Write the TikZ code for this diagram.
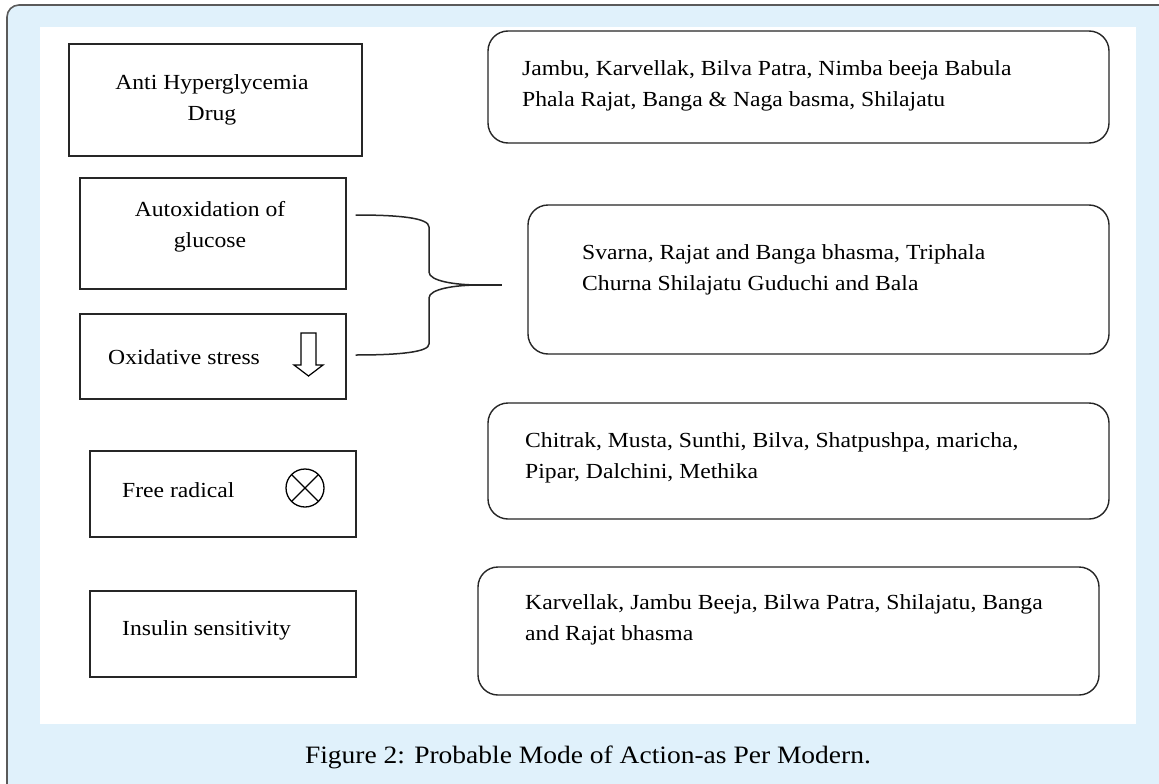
\documentclass[tikz,border=0pt]{standalone}
\usepackage{fontspec}
\setmainfont{Liberation Serif}[FakeStretch=1.10]
\usepackage{tikz}
\usetikzlibrary{calc}
\usetikzlibrary{arrows.meta}

\definecolor{marcofondo}{HTML}{E0F1FB}
\definecolor{marcoborde}{HTML}{5A5A5A}

\tikzset{
  caja/.style={draw=black!85, line width=1.4pt, rectangle, inner sep=0pt},
  cajaredonda/.style={draw=black!85, line width=1.4pt, rectangle, rounded corners=20pt, inner sep=0pt},
  texto/.style={font=\fontsize{21.5}{31}\selectfont, inner sep=0pt},
  conector/.style={draw=black!85, line width=1.5pt},
}

\begin{document}
\begin{tikzpicture}[x=1pt, y=-1pt]
  \useasboundingbox (0,0) rectangle (1159,784);
  \draw [fill=marcofondo, draw=marcoborde, line width=1.6pt, rounded corners=12pt] (7,5) rectangle (1180,810); % marco
  \fill [white] (40,27) rectangle (1136,724); % fondo blanco

  % cajas de la izquierda
  \node [caja, minimum width=293, minimum height=112] (drug) at (215.5,100) {};
  \node [caja, minimum width=266, minimum height=111] (auto) at (213,233.5) {};
  \node [caja, minimum width=266, minimum height=85] (oxi) at (213,356.5) {};
  \node [caja, minimum width=266, minimum height=86] (free) at (223,494) {};
  \node [caja, minimum width=266, minimum height=86] (insu) at (223,634) {};

  % (anchor=base -> linea de base de la ultima linea)
  \node [texto, align=center, anchor=base] (drugtxt) at (212,120) {Anti Hyperglycemia\\Drug};
  \node [texto, align=center, anchor=base] (autotxt) at (210,247) {Autoxidation of\\glucose};
  \node [texto, anchor=base west] (oxitxt) at (108,364) {Oxidative stress};
  \node [texto, anchor=base west] (freetxt) at (122,497) {Free radical};
  \node [texto, anchor=base west] (insutxt) at (122,635) {Insulin sensitivity};

  % cajas de la derecha
  \node [cajaredonda, minimum width=621, minimum height=112] (r1) at (798.5,87) {};
  \node [cajaredonda, minimum width=581, minimum height=149] (r2) at (818.5,279.5) {};
  \node [cajaredonda, minimum width=621, minimum height=116] (r3) at (798.5,461) {};
  \node [cajaredonda, minimum width=621, minimum height=128] (r4) at (788.5,631) {};

  \node [texto, align=left, anchor=base west] (r1txt) at (522,106) {Jambu, Karvellak, Bilva Patra, Nimba beeja Babula\\Phala Rajat, Banga \& Naga basma, Shilajatu};
  \node [texto, align=left, anchor=base west] (r2txt) at (582,290) {Svarna, Rajat and Banga bhasma, Triphala\\Churna Shilajatu Guduchi and Bala};
  \node [texto, align=left, anchor=base west] (r3txt) at (525,478) {Chitrak, Musta, Sunthi, Bilva, Shatpushpa, maricha,\\Pipar, Dalchini, Methika};
  \node [texto, align=left, anchor=base west] (r4txt) at (525,640) {Karvellak, Jambu Beeja, Bilwa Patra, Shilajatu, Banga\\and Rajat bhasma};

  % flecha hacia abajo y radical libre
  \draw [line width=1.2pt] (301,333) -- (316,333) -- (316,365) -- (323,365) -- (308.5,376) -- (294,365) -- (301,365) -- cycle;
  \draw [line width=1.3pt] (305,488) circle (19) coordinate (cruz);
  \draw [line width=1.3pt] ($(cruz)+(-13.4,-13.4)$) -- ($(cruz)+(13.4,13.4)$);
  \draw [line width=1.3pt] ($(cruz)+(-13.4,13.4)$) -- ($(cruz)+(13.4,-13.4)$);

  % llave
  \coordinate (punta) at ($(r2.west)+(-48,5.5)$);
  \coordinate (arriba) at ($(auto.east)+(9,-18.5)$);
  \coordinate (abajo) at ($(oxi.east)+(9,-1.5)$);
  \draw [conector] (arriba) .. controls (400,215) and (429,218) .. (429,227) -- (429,272) .. controls (429,281) and (455,285) .. (punta);
  \draw [conector] (abajo) .. controls (400,355) and (429,352) .. (429,344) -- (429,298) .. controls (429,289) and (455,285) .. (punta);
  \draw [conector] (punta) -- ($(r2.west)+(-25,5.5)$);

  \node [font=\fontsize{25}{29}\selectfont, inner sep=0pt] (pie) at (588,757) {Figure 2: Probable Mode of Action-as Per Modern.};
\end{tikzpicture}
\end{document}
